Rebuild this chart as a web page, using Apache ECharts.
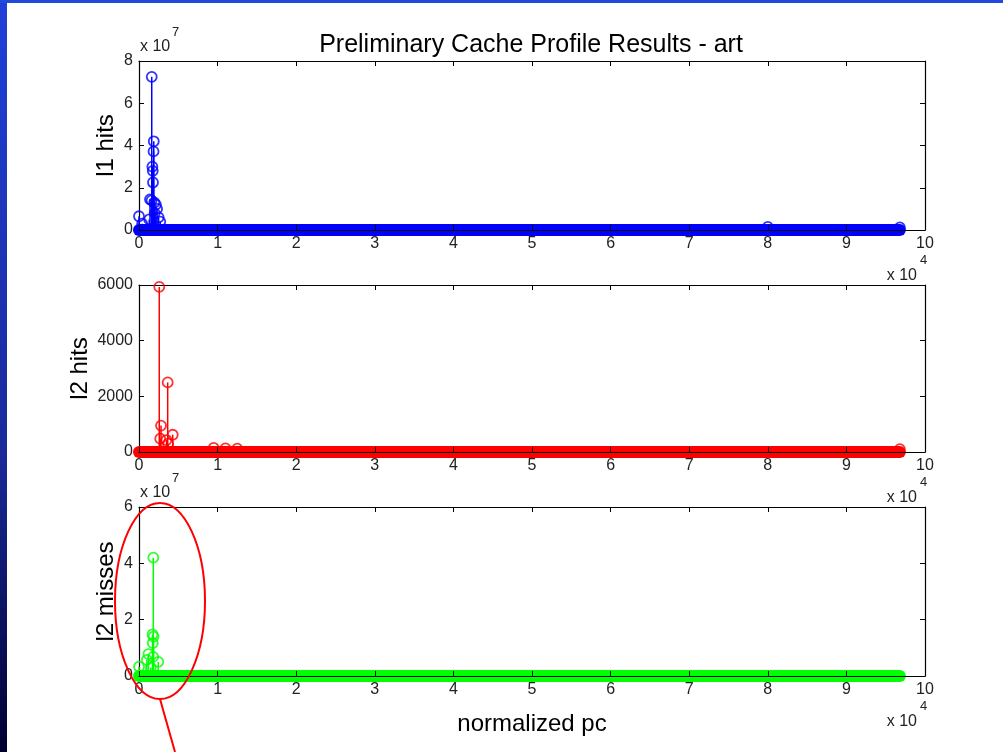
<!DOCTYPE html>
<html>
<head>
<meta charset="utf-8">
<script src="https://cdn.jsdelivr.net/npm/echarts@6/dist/echarts.min.js"></script>
<style>
  html, body { margin: 0; padding: 0; background: #fff; }
  #main { width: 1003px; height: 752px; }
</style>
</head>
<body>
<div id="main"></div>
<script>
// stem points: [normalized pc, count]
var l1Hits = [
  [0, 6.5e6], [400, 3.0e6], [1300, 5.0e6], [1400, 1.45e7], [1600, 1.4e7],
  [1620, 7.25e7], [1880, 4.2e7], [1850, 3.72e7], [1700, 3.0e7], [1750, 2.8e7],
  [1780, 2.25e7], [1950, 1.3e7], [2150, 1.2e7], [2300, 1.0e7], [2000, 8.0e6],
  [2500, 6.0e6], [2700, 4.0e6], [80000, 1.5e6], [96800, 1.2e6]
];
var l2Hits = [
  [2580, 5930], [3650, 2500], [2800, 950], [4290, 620], [2700, 480],
  [3500, 430], [3700, 300], [9500, 150], [11000, 130], [12500, 120], [96800, 100]
];
var l2Misses = [
  [0, 3.3e6], [1000, 5.7e6], [1200, 7.8e6], [1500, 3.0e6], [1720, 1.48e7],
  [1820, 4.2e7], [1850, 1.4e7], [1750, 1.17e7], [1800, 6.8e6], [2450, 5.0e6]
];
// the dense run of near-zero stems: [first pc, last pc]
var l1Band = [0, 96800];
var l2HitBand = [0, 96800];
var l2MissBand = [0, 96800];

var xTicks = [0, 10000, 100000];       // min, step, max
var yMax = [8e7, 6000, 6e7];
var yStep = [2e7, 2000, 2e7];
var yScale = [1e7, 1, 1e7];
var yNames = ['l1 hits', 'l2 hits', 'l2 misses'];
var colors = ['#0000ff', '#ff0000', '#00ff00'];

var FONT = '"Liberation Sans", Arial, sans-serif';
var grids = [
  { left: 139, right: 78, top: 61, height: 169 },
  { left: 139, right: 78, top: 285, height: 167 },
  { left: 139, right: 78, top: 507, height: 169 }
];
var nameGaps = [21, 47, 21];

var chart = echarts.init(document.getElementById('main'));

function axLine() { return { show: true, onZero: false, lineStyle: { color: '#000', width: 1.2 } }; }
function axTick() { return { show: true, inside: true, length: 5, lineStyle: { color: '#000', width: 1 } }; }

var xAxis = [], yAxis = [], series = [];
var allData = [l1Hits, l2Hits, l2Misses];
var bands = [l1Band, l2HitBand, l2MissBand];

grids.forEach(function (g, i) {
  xAxis.push({
    gridIndex: i, type: 'value', position: 'bottom', z: 5,
    min: xTicks[0], max: xTicks[2], interval: xTicks[1],
    axisLine: axLine(), axisTick: axTick(), splitLine: { show: false },
    axisLabel: { margin: 6, fontSize: 16, color: '#222', fontFamily: FONT,
      formatter: function (v) { return v / 10000; } },
    name: i === 2 ? 'normalized pc' : '', nameLocation: 'middle', nameGap: 36,
    nameMoveOverlap: false,
    nameTextStyle: { fontSize: 24, color: '#000', fontFamily: FONT }
  });
  xAxis.push({
    gridIndex: i, type: 'value', position: 'top',
    min: xTicks[0], max: xTicks[2], interval: xTicks[1],
    axisLine: axLine(), axisTick: axTick(), axisLabel: { show: false }, splitLine: { show: false }
  });
  yAxis.push({
    gridIndex: i, type: 'value', position: 'left',
    min: 0, max: yMax[i], interval: yStep[i],
    axisLine: axLine(), axisTick: axTick(), splitLine: { show: false },
    axisLabel: { margin: 6, fontSize: 16, color: '#222', fontFamily: FONT,
      formatter: function (v) { return v / yScale[i]; } },
    name: yNames[i], nameLocation: 'middle', nameGap: nameGaps[i], nameRotate: 90,
    nameMoveOverlap: false,
    nameTextStyle: { fontSize: 24, color: '#000', fontFamily: FONT }
  });
  yAxis.push({
    gridIndex: i, type: 'value', position: 'right',
    min: 0, max: yMax[i], interval: yStep[i],
    axisLine: axLine(), axisTick: axTick(), axisLabel: { show: false }, splitLine: { show: false }
  });

  var c = colors[i];
  // thick band of overlapping stems near zero
  series.push({
    type: 'line', xAxisIndex: 2 * i, yAxisIndex: 2 * i, clip: false,
    data: [[bands[i][0], 0], [bands[i][1], 0]], symbol: 'none', silent: true,
    lineStyle: { color: c, width: 12, cap: 'round' }
  });
  // stems
  series.push({
    type: 'custom', xAxisIndex: 2 * i, yAxisIndex: 2 * i, clip: false,
    data: allData[i],
    renderItem: function (params, api) {
      var top = api.coord([api.value(0), api.value(1)]);
      var base = api.coord([api.value(0), 0]);
      return { type: 'line', shape: { x1: base[0], y1: base[1], x2: top[0], y2: top[1] },
        style: { stroke: c, lineWidth: 1.5 } };
    }
  });
  // circles on top
  series.push({
    type: 'scatter', xAxisIndex: 2 * i, yAxisIndex: 2 * i, clip: false,
    data: allData[i], symbol: 'circle', symbolSize: 10,
    itemStyle: { color: 'rgba(0,0,0,0)', borderColor: c, borderWidth: 1.8 }
  });
});

function txt(x, y, s, size, align) {
  return { type: 'text', x: x, y: y, z: 10,
    style: { text: s, fontSize: size, fontFamily: FONT, fill: '#222',
      align: align || 'left', verticalAlign: 'middle' } };
}

chart.setOption({
  backgroundColor: '#fff',
  animation: false,
  grid: grids,
  xAxis: xAxis,
  yAxis: yAxis,
  series: series,
  graphic: [
    // slide frame
    { type: 'rect', shape: { x: 0, y: 0, width: 7, height: 752 }, z: 20,
      style: { fill: new echarts.graphic.LinearGradient(0, 0, 0, 1, [
        { offset: 0, color: '#1f40d8' }, { offset: 0.6, color: '#1a2a9a' }, { offset: 1, color: '#000030' }]) } },
    { type: 'rect', shape: { x: 0, y: 0, width: 1003, height: 3 }, z: 20,
      style: { fill: '#2248dc' } },
    // title
    { type: 'text', x: 531, y: 45, z: 10,
      style: { text: 'Preliminary Cache Profile Results - art', fontSize: 25, fontFamily: FONT,
        fill: '#000', align: 'center', verticalAlign: 'middle' } },
    // exponent labels
    txt(140, 47, 'x 10', 16), txt(172, 32, '7', 13),
    txt(140, 493, 'x 10', 16), txt(172, 478, '7', 13),
    txt(917, 276, 'x 10', 16, 'right'), txt(920, 260, '4', 13),
    txt(917, 498, 'x 10', 16, 'right'), txt(920, 482, '4', 13),
    txt(917, 722, 'x 10', 16, 'right'), txt(920, 706, '4', 13),
    // red annotation
    { type: 'ellipse', shape: { cx: 160, cy: 601, rx: 45, ry: 98 }, z: 15,
      style: { fill: 'none', stroke: '#ff0000', lineWidth: 2 } },
    { type: 'line', shape: { x1: 160, y1: 699, x2: 175, y2: 752 }, z: 15,
      style: { stroke: '#ff0000', lineWidth: 2 } }
  ]
});
</script>
</body>
</html>
